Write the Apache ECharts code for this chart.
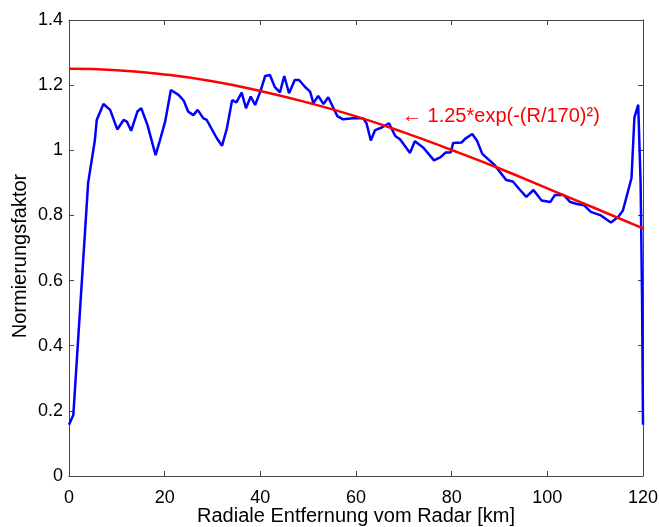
<!DOCTYPE html>
<html>
<head>
<meta charset="utf-8">
<script src="https://cdn.jsdelivr.net/npm/echarts@6/dist/echarts.min.js"></script>
<style>html,body{margin:0;padding:0;background:#fff;}#c{width:659px;height:527px;}</style>
</head>
<body>
<div id="c"></div>
<script>
// Measured blue curve: distance (km) and normalisation factor
var blueR = [0, 0.9, 4.0, 5.4, 5.8, 7.2, 8.6, 10.1, 11.4, 12.1, 13.0, 14.3, 15.1, 16.4, 18.1, 19.0, 20.1, 21.3, 22.9, 24.0, 24.9, 26.0, 26.9, 28.1, 28.8, 30.9, 32.0, 33.0, 34.1, 35.0, 36.1, 37.0, 38.0, 38.9, 40.0, 41.0, 42.0, 43.0, 44.1, 45.0, 46.0, 47.2, 48.1, 49.3, 50.4, 51.1, 52.1, 53.2, 54.2, 55.3, 56.1, 57.3, 59.4, 61.5, 62.2, 63.1, 64.0, 65.4, 66.9, 68.2, 69.2, 71.3, 72.3, 74.1, 76.3, 77.7, 78.7, 79.8, 80.3, 82.1, 82.8, 84.3, 85.3, 86.4, 88.9, 91.4, 92.8, 94.3, 95.6, 97.1, 98.8, 100.6, 101.6, 103.4, 104.8, 106.2, 107.7, 109.1, 111.2, 113.3, 114.8, 115.8, 117.6, 118.2, 119.0, 119.5, 119.8, 120.0];
var blueV = [0.157, 0.187, 0.90, 1.03, 1.093, 1.142, 1.124, 1.064, 1.093, 1.088, 1.06, 1.119, 1.129, 1.078, 0.985, 1.03, 1.088, 1.185, 1.17, 1.152, 1.119, 1.108, 1.124, 1.098, 1.093, 1.037, 1.014, 1.067, 1.154, 1.147, 1.177, 1.129, 1.165, 1.139, 1.18, 1.228, 1.231, 1.195, 1.178, 1.228, 1.175, 1.216, 1.216, 1.195, 1.18, 1.145, 1.167, 1.142, 1.163, 1.129, 1.105, 1.095, 1.098, 1.098, 1.083, 1.03, 1.062, 1.07, 1.083, 1.044, 1.034, 0.992, 1.028, 1.008, 0.969, 0.979, 0.993, 0.993, 1.022, 1.024, 1.035, 1.050, 1.029, 0.989, 0.956, 0.909, 0.904, 0.878, 0.857, 0.878, 0.846, 0.841, 0.863, 0.863, 0.841, 0.835, 0.831, 0.811, 0.80, 0.778, 0.795, 0.815, 0.915, 1.10, 1.14, 0.90, 0.55, 0.157];
// Red fitted curve
var redR = [0, 10, 20, 30, 40, 50, 60, 70, 80, 90, 100, 110, 120];
var redV = [1.25, 1.246, 1.233, 1.212, 1.182, 1.146, 1.104, 1.055, 1.001, 0.944, 0.883, 0.822, 0.760];
var xTicks = [0, 20, 40, 60, 80, 100, 120];
var yTicks = [0, 0.2, 0.4, 0.6, 0.8, 1, 1.2, 1.4];
var annotation = '\u2190 1.25*exp(-(R/170)\u00B2)';
var xTitle = 'Radiale Entfernung vom Radar [km]';
var yTitle = 'Normierungsfaktor';

function zip(a, b) { return a.map(function (v, i) { return [v, b[i]]; }); }

var chart = echarts.init(document.getElementById('c'));
var FONT = 'Liberation Sans, Arial, Helvetica, sans-serif';
var axisColor = '#444';
var baseAxis = {
  axisLine: { show: true, onZero: false, lineStyle: { color: axisColor, width: 1 } },
  axisTick: { show: true, inside: true, length: 5, lineStyle: { color: axisColor } },
  splitLine: { show: false }
};
chart.setOption({
  animation: false,
  backgroundColor: '#fff',
  grid: { left: 69, top: 20, right: 16, bottom: 51, containLabel: false, outerBoundsMode: 'none' },
  xAxis: [
    Object.assign({}, baseAxis, {
      type: 'value', min: 0, max: 120, interval: 20, position: 'bottom',
      name: xTitle, nameLocation: 'middle', nameGap: 30, nameMoveOverlap: false,
      nameTextStyle: { fontFamily: FONT, fontSize: 20, color: '#000' },
      axisLabel: { fontFamily: FONT, fontSize: 18, color: '#000', margin: 13,
        formatter: function (v) { return xTicks.indexOf(v) >= 0 ? String(v) : ''; } }
    }),
    Object.assign({}, baseAxis, {
      type: 'value', min: 0, max: 120, interval: 20, position: 'top', axisLabel: { show: false }
    })
  ],
  yAxis: [
    Object.assign({}, baseAxis, {
      type: 'value', min: 0, max: 1.4, interval: 0.2, position: 'left',
      name: yTitle, nameLocation: 'middle', nameGap: 39, nameRotate: 90, nameMoveOverlap: false,
      nameTextStyle: { fontFamily: FONT, fontSize: 20, color: '#000', padding: [0, 16, 0, 0] },
      axisLabel: { fontFamily: FONT, fontSize: 18, color: '#000', margin: 6,
        formatter: function (v) {
          var r = Math.round(v * 10) / 10;
          for (var i = 0; i < yTicks.length; i++) if (Math.abs(yTicks[i] - r) < 1e-9) return String(yTicks[i]);
          return '';
        } }
    }),
    Object.assign({}, baseAxis, {
      type: 'value', min: 0, max: 1.4, interval: 0.2, position: 'right', axisLabel: { show: false }
    })
  ],
  series: [
    {
      type: 'line', data: zip(blueR, blueV), showSymbol: false, symbol: 'none',
      lineStyle: { color: '#0000ff', width: 2.5 }, z: 2
    },
    {
      type: 'line', data: zip(redR, redV), showSymbol: false, symbol: 'none', smooth: true,
      lineStyle: { color: '#ff0000', width: 2.5 }, z: 3
    }
  ],
  graphic: [
    { type: 'text', left: 402, top: 106, style: { text: annotation, fill: '#ff0000', font: '20px ' + FONT } }
  ]
});
</script>
</body>
</html>
